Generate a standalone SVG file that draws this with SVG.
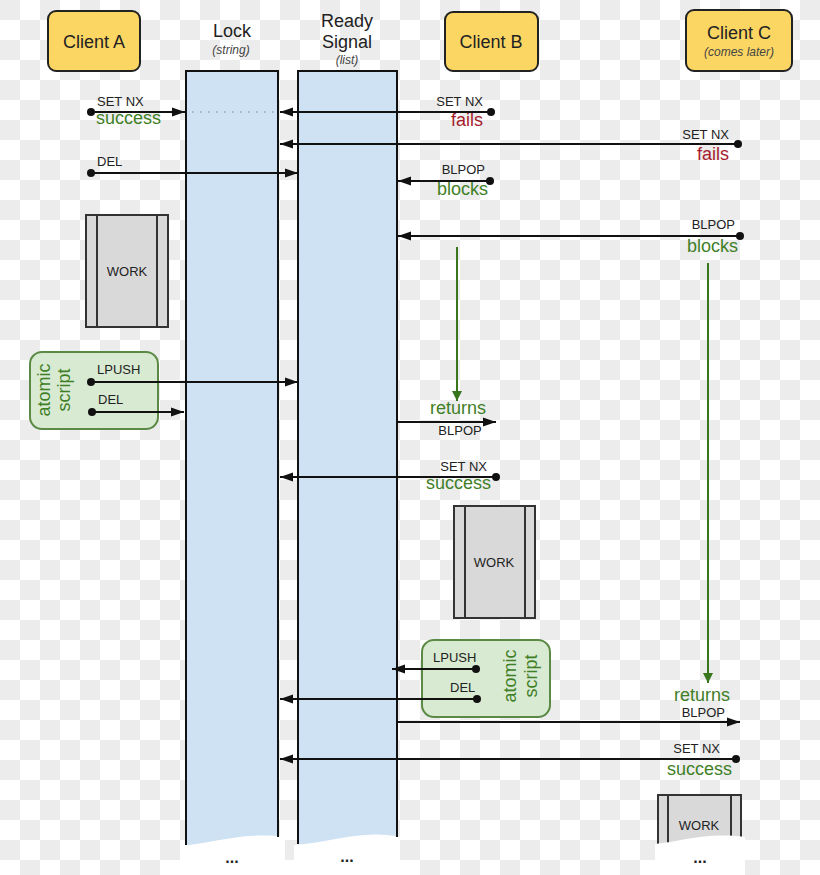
<svg xmlns="http://www.w3.org/2000/svg" width="820" height="875" viewBox="0 0 820 875">
<defs>
  <pattern id="chk" width="40" height="40" patternUnits="userSpaceOnUse">
    <rect width="40" height="40" fill="#ffffff"/>
    <rect width="20" height="20" fill="#ececec"/>
    <rect x="20" y="20" width="20" height="20" fill="#ececec"/>
  </pattern>
  <marker id="ah" markerUnits="userSpaceOnUse" markerWidth="13" markerHeight="10" refX="13" refY="5" orient="auto">
    <path d="M0,0.5 L13,5 L0,9.5 Z" fill="#111"/>
  </marker>
  <marker id="gh" markerUnits="userSpaceOnUse" markerWidth="11" markerHeight="11" refX="10" refY="5.5" orient="auto">
    <path d="M0,0.5 L10,5.5 L0,10.5 Z" fill="#38761d"/>
  </marker>
  <style>
    text { font-family: "Liberation Sans", Arial, sans-serif; fill: #222; }
    .big { font-size: 18px; }
    .sub { font-size: 12px; font-style: italic; fill: #444; }
    .lbl { font-size: 13px; }
    .dots { font-size: 16px; font-weight: bold; }
    .grn { font-size: 18px; fill: #3f8027; }
    .red { font-size: 18px; fill: #a61c2e; }
    .mid { text-anchor: middle; }
    .end { text-anchor: end; }
    .client { fill: #fcd662; stroke: #222; stroke-width: 2; }
    .lanefill { fill: #cfe2f3; }
    .laneline { fill: none; stroke: #111; stroke-width: 2; }
    .work { fill: #d9d9d9; stroke: #333; stroke-width: 2; }
    .atomic { fill: #d9ead3; stroke: #5b8a45; stroke-width: 2; }
    .conn { stroke: #111; stroke-width: 2; fill: none; marker-end: url(#ah); }
    .gconn { stroke: #38761d; stroke-width: 2; fill: none; marker-end: url(#gh); }
    .dot { fill: #111; }
    .cover { fill: #ffffff; }
  </style>
</defs>

<rect width="820" height="875" fill="url(#chk)"/>

<g id="clientA">
  <rect class="client" x="48" y="11" width="92" height="60" rx="8"/>
  <text class="big mid" x="94" y="48">Client A</text>
</g>
<g id="clientB">
  <rect class="client" x="445" y="12" width="93" height="59" rx="8"/>
  <text class="big mid" x="491" y="48">Client B</text>
</g>
<g id="clientC">
  <rect class="client" x="686" y="10" width="106" height="61" rx="8"/>
  <text class="big mid" x="739" y="39">Client C</text>
  <text class="sub mid" x="739" y="56">(comes later)</text>
</g>

<g id="lock">
  <text class="big mid" x="232" y="37">Lock</text>
  <text class="sub mid" x="231" y="54">(string)</text>
  <rect class="lanefill" x="186" y="71" width="92" height="780"/>
  <line x1="192" y1="112" x2="276" y2="112" stroke="#8ea3b6" stroke-width="1.5" stroke-dasharray="1.5 6.5"/>
  <path class="cover" d="M180,846 C212,844 244,831 285,837 L285,875 L180,875 Z"/>
  <path class="laneline" d="M186,845 L186,71 L278,71 L278,837"/>
  <text class="dots mid" x="232" y="863">...</text>
</g>

<g id="ready">
  <text class="big mid" x="347" y="27">Ready</text>
  <text class="big mid" x="347" y="48">Signal</text>
  <text class="sub mid" x="347" y="64">(list)</text>
  <rect class="lanefill" x="298" y="71" width="99" height="780"/>
  <path class="cover" d="M294,845 C330,843 360,829 400,837 L400,875 L294,875 Z"/>
  <path class="laneline" d="M298,844 L298,71 L397,71 L397,837"/>
  <text class="dots mid" x="347" y="862">...</text>
</g>

<g id="workA">
  <rect class="work" x="86" y="215" width="82" height="112"/>
  <line x1="97" y1="215" x2="97" y2="327" stroke="#333" stroke-width="2"/>
  <line x1="157" y1="215" x2="157" y2="327" stroke="#333" stroke-width="2"/>
  <text class="lbl mid" x="127" y="276">WORK</text>
</g>

<g id="workB">
  <rect class="work" x="454" y="506" width="81" height="112"/>
  <line x1="465" y1="506" x2="465" y2="618" stroke="#333" stroke-width="2"/>
  <line x1="525" y1="506" x2="525" y2="618" stroke="#333" stroke-width="2"/>
  <text class="lbl mid" x="494" y="567">WORK</text>
</g>

<g id="workC">
  <rect class="work" x="658" y="795" width="83" height="70"/>
  <line x1="668" y1="795" x2="668" y2="865" stroke="#333" stroke-width="2"/>
  <line x1="731" y1="795" x2="731" y2="865" stroke="#333" stroke-width="2"/>
  <text class="lbl mid" x="699" y="830">WORK</text>
  <path class="cover" d="M655,844 C680,842 705,832 745,837 L745,875 L655,875 Z"/>
  <text class="dots mid" x="700" y="863">...</text>
</g>

<g id="atomicA">
  <rect class="atomic" x="30" y="352" width="128" height="77" rx="12"/>
  <text class="grn mid" transform="translate(50,390) rotate(-90)">atomic</text>
  <text class="grn mid" transform="translate(70,390) rotate(-90)">script</text>
</g>

<g id="atomicB">
  <rect class="atomic" x="422" y="640" width="128" height="77" rx="12"/>
  <text class="grn mid" transform="translate(516,676) rotate(-90)">atomic</text>
  <text class="grn mid" transform="translate(537,676) rotate(-90)">script</text>
</g>

<g id="connectors">
  <line class="conn" x1="91" y1="112" x2="185" y2="112"/>
  <circle class="dot" cx="91" cy="112" r="4"/>
  <text class="lbl" x="97" y="106">SET NX</text>
  <text class="grn" x="96" y="124">success</text>

  <line class="conn" x1="491" y1="112" x2="280" y2="112"/>
  <circle class="dot" cx="491" cy="112" r="4"/>
  <text class="lbl end" x="483" y="106">SET NX</text>
  <text class="red end" x="483" y="126">fails</text>

  <line class="conn" x1="738" y1="144" x2="280" y2="144"/>
  <circle class="dot" cx="738" cy="144" r="4"/>
  <text class="lbl end" x="729" y="139">SET NX</text>
  <text class="red end" x="729" y="160">fails</text>

  <line class="conn" x1="91" y1="173" x2="298" y2="173"/>
  <circle class="dot" cx="91" cy="173" r="4"/>
  <text class="lbl" x="97" y="166">DEL</text>

  <line class="conn" x1="490" y1="181" x2="398" y2="181"/>
  <circle class="dot" cx="490" cy="181" r="4"/>
  <text class="lbl end" x="485" y="174">BLPOP</text>
  <text class="grn end" x="488" y="195">blocks</text>

  <line class="conn" x1="740" y1="236" x2="398" y2="236"/>
  <circle class="dot" cx="740" cy="236" r="4"/>
  <text class="lbl end" x="735" y="229">BLPOP</text>
  <text class="grn end" x="738" y="252">blocks</text>

  <line class="gconn" x1="457" y1="247" x2="457" y2="401"/>
  <text class="grn mid" x="458" y="414">returns</text>
  <line class="conn" x1="397" y1="422" x2="496" y2="422"/>
  <text class="lbl mid" x="460" y="435">BLPOP</text>

  <line class="conn" x1="91" y1="382" x2="298" y2="382"/>
  <circle class="dot" cx="91" cy="382" r="4"/>
  <text class="lbl" x="97" y="374">LPUSH</text>
  <line class="conn" x1="92" y1="412" x2="184" y2="412"/>
  <circle class="dot" cx="92" cy="412" r="4"/>
  <text class="lbl" x="98" y="404">DEL</text>

  <line class="conn" x1="496" y1="477" x2="280" y2="477"/>
  <circle class="dot" cx="496" cy="477" r="4"/>
  <text class="lbl end" x="487" y="471">SET NX</text>
  <text class="grn end" x="491" y="489">success</text>

  <line class="conn" x1="476" y1="669" x2="392" y2="669"/>
  <circle class="dot" cx="476" cy="669" r="4"/>
  <text class="lbl" x="433" y="662">LPUSH</text>
  <line class="conn" x1="477" y1="699" x2="280" y2="699"/>
  <circle class="dot" cx="477" cy="699" r="4"/>
  <text class="lbl" x="450" y="692">DEL</text>

  <line class="gconn" x1="708" y1="263" x2="708" y2="683"/>
  <text class="grn mid" x="702" y="701">returns</text>
  <line class="conn" x1="397" y1="722" x2="740" y2="722"/>
  <text class="lbl end" x="725" y="717">BLPOP</text>

  <line class="conn" x1="736" y1="759" x2="280" y2="759"/>
  <circle class="dot" cx="736" cy="759" r="4"/>
  <text class="lbl end" x="720" y="753">SET NX</text>
  <text class="grn end" x="732" y="775">success</text>
</g>
</svg>
